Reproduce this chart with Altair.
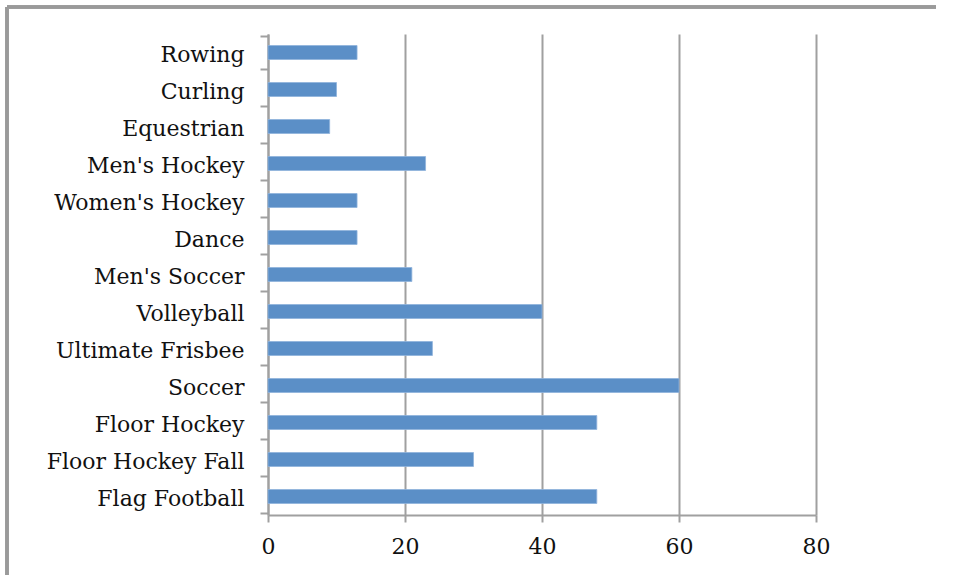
import altair as alt
import pandas as pd

categories = ["Rowing", "Curling", "Equestrian", "Men's Hockey", "Women's Hockey",
              "Dance", "Men's Soccer", "Volleyball", "Ultimate Frisbee", "Soccer",
              "Floor Hockey", "Floor Hockey Fall", "Flag Football"]
values = [13, 10, 9, 23, 13, 13, 21, 40, 24, 60, 48, 30, 48]
x_ticks = [0, 20, 40, 60, 80]

df = pd.DataFrame({"sport": categories, "value": values})

FONT = "DejaVu Serif"
GRAY = "#a0a0a0"

bars = alt.Chart(df).mark_bar(
    color="#5b8fc7", stroke="#8fb3dc", strokeWidth=0.8, size=14
).encode(
    x=alt.X("value:Q",
            scale=alt.Scale(domain=[0, 80], nice=False),
            axis=alt.Axis(values=x_ticks, title=None, grid=True, gridColor=GRAY,
                          gridWidth=2, domainColor=GRAY, domainWidth=2,
                          tickColor=GRAY, tickWidth=2, tickSize=7,
                          labelFont=FONT, labelFontSize=22, labelColor="#111111",
                          labelPadding=14, labelFlush=False)),
    y=alt.Y("sport:N", sort=categories,
            axis=alt.Axis(title=None, domainColor=GRAY, domainWidth=2,
                          tickColor=GRAY, tickWidth=2, tickSize=8, tickBand="extent",
                          labelFont=FONT, labelFontSize=22, labelColor="#111111",
                          labelPadding=16, labelLimit=400, labelOffset=2)),
)

border_left = alt.Chart(df).mark_rule(color="#9a9a9a", strokeWidth=2.5).encode(
    x=alt.value(-261), y=alt.value(-27), y2=alt.value(541))
border_top = alt.Chart(df).mark_rule(color="#9a9a9a", strokeWidth=2.5).encode(
    x=alt.value(-261), x2=alt.value(668), y=alt.value(-27))

chart = alt.layer(bars, border_left, border_top).properties(
    width=548, height=481,
    autosize=alt.AutoSizeParams(type="none"),
    padding={"left": 268, "top": 34, "right": 120, "bottom": 60},
).configure(background="white", view=alt.ViewConfig(stroke="transparent", strokeWidth=0))

chart.save("out.html", embed_options={"renderer": "svg", "actions": False})
